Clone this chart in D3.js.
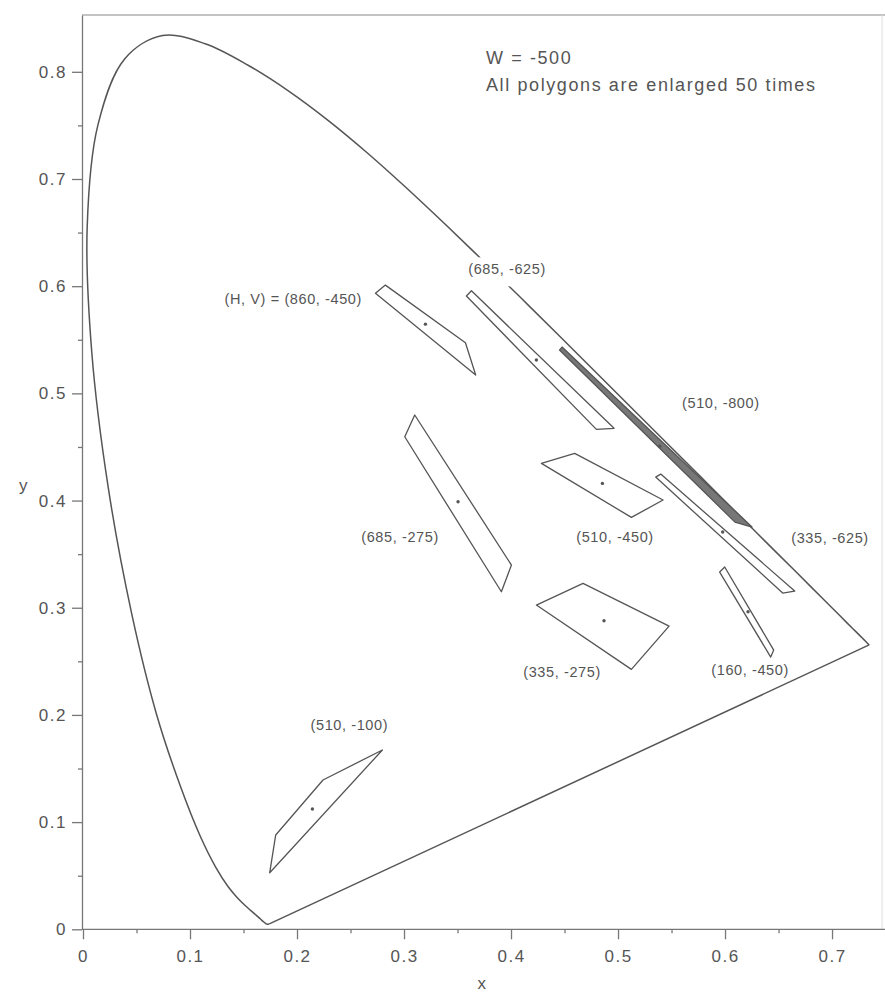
<!DOCTYPE html>
<html>
<head>
<meta charset="utf-8">
<script src="https://cdn.jsdelivr.net/npm/d3@7"></script>
<style>
body { margin: 0; background: #fff; }
svg text { font-family: "Liberation Sans", Arial, Helvetica, sans-serif; fill: #555; }
</style>
</head>
<body>
<div id="chart"></div>
<script>
// CIE 1931 spectral locus, 380 - 700 nm every 5 nm
var locusX = [0.1741, 0.1740, 0.1738, 0.1736, 0.1733, 0.1730, 0.1726, 0.1721, 0.1714, 0.1703,
	0.1689, 0.1669, 0.1644, 0.1611, 0.1566, 0.1510, 0.1440, 0.1355, 0.1241, 0.1096,
	0.0913, 0.0687, 0.0454, 0.0235, 0.0082, 0.0039, 0.0139, 0.0389, 0.0743, 0.1142,
	0.1547, 0.1929, 0.2296, 0.2658, 0.3016, 0.3373, 0.3731, 0.4087, 0.4441, 0.4788,
	0.5125, 0.5448, 0.5752, 0.6029, 0.6270, 0.6482, 0.6658, 0.6801, 0.6915, 0.7006,
	0.7079, 0.7140, 0.7190, 0.7230, 0.7260, 0.7283, 0.7300, 0.7311, 0.7320, 0.7327,
	0.7334, 0.7340, 0.7344, 0.7346, 0.7347];
var locusY = [0.0050, 0.0050, 0.0049, 0.0049, 0.0048, 0.0048, 0.0048, 0.0048, 0.0051, 0.0058,
	0.0069, 0.0086, 0.0109, 0.0138, 0.0177, 0.0227, 0.0297, 0.0399, 0.0578, 0.0868,
	0.1327, 0.2007, 0.2950, 0.4127, 0.5384, 0.6548, 0.7502, 0.8120, 0.8338, 0.8262,
	0.8059, 0.7816, 0.7543, 0.7243, 0.6923, 0.6589, 0.6245, 0.5896, 0.5547, 0.5202,
	0.4866, 0.4544, 0.4242, 0.3965, 0.3725, 0.3514, 0.3340, 0.3197, 0.3083, 0.2993,
	0.2920, 0.2859, 0.2809, 0.2770, 0.2740, 0.2717, 0.2700, 0.2689, 0.2680, 0.2673,
	0.2666, 0.2660, 0.2656, 0.2654, 0.2653];

// polygon names (H, V), their corners (x, y) and centres
var polyNames = ["(H, V) = (860, -450)", "(685, -625)", "(510, -800)", "(510, -450)", "(335, -625)",
	"(685, -275)", "(335, -275)", "(160, -450)", "(510, -100)"];
var polyCorners = [
	[[0.2733, 0.5933], [0.2826, 0.6010], [0.3574, 0.5472], [0.3670, 0.5171]],
	[[0.3583, 0.5908], [0.3630, 0.5957], [0.4963, 0.4674], [0.4798, 0.4664]],
	[[0.4453, 0.5404], [0.4477, 0.5432], [0.6252, 0.3753], [0.6093, 0.3799]],
	[[0.4284, 0.4347], [0.4595, 0.4440], [0.5421, 0.4005], [0.5125, 0.3843]],
	[[0.5352, 0.4219], [0.5399, 0.4247], [0.6651, 0.3156], [0.6539, 0.3137]],
	[[0.3100, 0.4798], [0.3007, 0.4595], [0.3910, 0.3149], [0.4004, 0.3398]],
	[[0.4237, 0.3025], [0.4673, 0.3228], [0.5477, 0.2829], [0.5125, 0.2425]],
	[[0.5950, 0.3333], [0.5997, 0.3380], [0.6455, 0.2605], [0.6427, 0.2540]],
	[[0.1745, 0.0528], [0.1801, 0.0880], [0.2243, 0.1393], [0.2798, 0.1673]]
];
var polyCentres = [[0.3200, 0.5646], [0.4237, 0.5311], [0.5390, 0.4506], [0.4854, 0.4160], [0.5978, 0.3706],
	[0.3505, 0.3989], [0.4869, 0.2879], [0.6215, 0.2963], [0.2144, 0.1122]];
// where each name sits (chart units)
var labelAt = [[0.1965, 0.5882], [0.3963, 0.6157], [0.5961, 0.4907], [0.4972, 0.3657], [0.6981, 0.3647],
	[0.2963, 0.3657], [0.4477, 0.2403], [0.6234, 0.2419], [0.2489, 0.1906]];

var xTicks = [0, 0.1, 0.2, 0.3, 0.4, 0.5, 0.6, 0.7];
var xMinor = [0.05, 0.15, 0.25, 0.35, 0.45, 0.55, 0.65];
var yTicks = [0, 0.1, 0.2, 0.3, 0.4, 0.5, 0.6, 0.7, 0.8];
var yMinor = [0.05, 0.15, 0.25, 0.35, 0.45, 0.55, 0.65, 0.75];

var width = 885, height = 993;
var plotLeft = 83, plotRight = 882, plotTop = 15, plotBottom = 929.3;

var svg = d3.select('#chart').append('svg')
	.attr('width', width)
	.attr('height', height);

var x = d3.scaleLinear().domain([0, 0.7467]).range([plotLeft, plotRight]);
var y = d3.scaleLinear().domain([0, 0.853]).range([plotBottom, plotTop]);

// frame: top line and faint right edge
svg.append('line').attr('x1', plotLeft - 1).attr('x2', width).attr('y1', plotTop).attr('y2', plotTop)
	.attr('stroke', '#888').attr('stroke-width', 1.2);
svg.append('line').attr('x1', plotRight).attr('x2', plotRight).attr('y1', plotTop).attr('y2', plotBottom)
	.attr('stroke', '#ddd').attr('stroke-width', 1);

function styleAxis (g) {
	g.select('.domain').attr('stroke', '#777').attr('stroke-width', 1.3);
	g.selectAll('.tick line').attr('stroke', '#777').attr('stroke-width', 1.3);
	g.selectAll('.tick text')
		.style('font-size', '17px')
		.style('letter-spacing', '1.5px')
		.attr('fill', '#555');
}

var xAxis = svg.append('g')
	.attr('transform', 'translate(0,' + plotBottom + ')')
	.call(d3.axisBottom(x).tickValues(xTicks).tickFormat(d => String(d))
		.tickSize(10).tickSizeOuter(0).tickPadding(11));
styleAxis(xAxis);
xAxis.select('.domain').attr('d', 'M' + (plotLeft - 1) + ',0H' + width);

var xMinorAxis = svg.append('g')
	.attr('transform', 'translate(0,' + plotBottom + ')')
	.call(d3.axisBottom(x).tickValues(xMinor).tickFormat('').tickSize(4).tickSizeOuter(0));
xMinorAxis.select('.domain').remove();
styleAxis(xMinorAxis);

var yAxis = svg.append('g')
	.attr('transform', 'translate(' + (plotLeft - 1) + ',0)')
	.call(d3.axisLeft(y).tickValues(yTicks).tickFormat(d => String(d))
		.tickSize(10).tickSizeOuter(0).tickPadding(5));
styleAxis(yAxis);

var yMinorAxis = svg.append('g')
	.attr('transform', 'translate(' + (plotLeft - 1) + ',0)')
	.call(d3.axisLeft(y).tickValues(yMinor).tickFormat('').tickSize(4).tickSizeOuter(0));
yMinorAxis.select('.domain').remove();
styleAxis(yMinorAxis);

svg.append('text').attr('x', 481.7).attr('y', 983)
	.attr('text-anchor', 'middle').attr('dominant-baseline', 'central')
	.style('font-size', '17px').text('x');
svg.append('text').attr('x', 23.3).attr('y', 485)
	.attr('text-anchor', 'middle').attr('dominant-baseline', 'central')
	.style('font-size', '17px').text('y');

// spectral locus and purple line
var locus = locusX.map((d, i) => [d, locusY[i]]);

svg.append('path')
	.attr('d', d3.line().x(d => x(d[0])).y(d => y(d[1])).curve(d3.curveCatmullRom)(locus))
	.attr('fill', 'none')
	.attr('stroke', '#555')
	.attr('stroke-width', 1.5);
svg.append('path')
	.attr('d', d3.line().x(d => x(d[0])).y(d => y(d[1]))([locus[locus.length - 1], locus[0]]))
	.attr('fill', 'none')
	.attr('stroke', '#555')
	.attr('stroke-width', 1.5);

// polygons
var polys = svg.append('g').attr('id', 'polygons');
polys.selectAll('path')
	.data(polyCorners)
	.enter()
	.append('path')
	.attr('d', d => d3.line().x(p => x(p[0])).y(p => y(p[1]))(d) + 'Z')
	.attr('fill', (d, i) => i === 2 ? '#777' : 'none')
	.attr('stroke', '#555')
	.attr('stroke-width', 1.3)
	.attr('stroke-linejoin', 'round');

polys.selectAll('circle')
	.data(polyCentres)
	.enter()
	.append('circle')
	.attr('cx', d => x(d[0]))
	.attr('cy', d => y(d[1]))
	.attr('r', 1.7)
	.attr('fill', '#555');

// names, the one on the locus knocks the line out
var labels = svg.append('g').attr('id', 'labels');
var names = labels.selectAll('g')
	.data(polyNames)
	.enter()
	.append('g');

names.append('text')
	.attr('x', (d, i) => x(labelAt[i][0]))
	.attr('y', (d, i) => y(labelAt[i][1]))
	.attr('text-anchor', 'middle')
	.attr('dominant-baseline', 'central')
	.style('font-size', '14.5px')
	.style('letter-spacing', '0.6px')
	.text(d => d);

names.filter((d, i) => i === 1).each(function () {
	var g = d3.select(this);
	var b = g.select('text').node().getBBox();
	g.insert('rect', 'text')
		.attr('x', b.x - 4)
		.attr('y', b.y - 4)
		.attr('width', b.width + 8)
		.attr('height', b.height + 13)
		.attr('fill', '#fff');
});

svg.append('text').attr('x', 486).attr('y', 64)
	.style('font-size', '18px').style('letter-spacing', '1.6px')
	.text('W = -500');
svg.append('text').attr('x', 486).attr('y', 90.5)
	.style('font-size', '18px').style('letter-spacing', '1.6px')
	.text('All polygons are enlarged 50 times');
</script>
</body>
</html>
